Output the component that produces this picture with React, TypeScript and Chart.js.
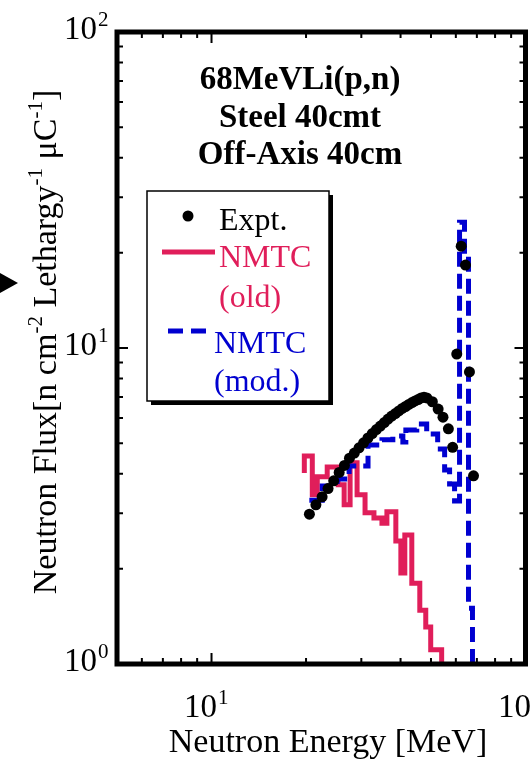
import React, { useEffect, useRef } from "react";
import { Chart, registerables } from "chart.js";

Chart.register(...registerables);

// ---------- data ----------
const exptEnergy = [
  20.5, 21.5, 22.5, 23.5, 24.5, 25.5, 26.5, 27.5, 28.5, 29.5, 30.5, 31.5, 32.5, 33.5, 34.5,
  35.5, 36.5, 37.5, 38.5, 39.5, 40.5, 41.5, 42.5, 43.5, 44.5, 45.5, 46.5, 47.5, 48.5,
  50.5, 52.7, 54.6, 56.8, 58.6, 60.4, 62.4, 64.4, 66.3, 68.3,
];
const exptFlux = [
  2.98, 3.19, 3.38, 3.59, 3.8, 4.04, 4.25, 4.48, 4.65, 4.83, 5.01, 5.19, 5.36, 5.52, 5.66,
  5.81, 5.96, 6.09, 6.2, 6.32, 6.44, 6.53, 6.63, 6.72, 6.8, 6.87, 6.95, 6.98, 6.95,
  6.76, 6.41, 6.04, 5.55, 4.85, 9.57, 21.0, 18.3, 8.4, 3.94,
];

// NMTC (old): bin lower edges [MeV] and flux
const oldEnergy = [
  19.75, 19.75, 20.94, 21.72, 23.36, 25.31, 26.45, 27.63, 29.08, 30.83, 32.91, 34.9, 36.19,
  38.64, 40.09, 41.27, 43.44, 46.06, 48.12, 49.9, 54.07,
];
const oldFlux = [
  4.02, 4.55, 3.43, 3.91, 4.2, 3.69, 3.19, 4.33, 3.43, 3.01, 2.9, 2.79, 3.03, 2.45, 1.94,
  2.56, 1.8, 1.48, 1.31, 1.11, 0.5,
];

// NMTC (mod.): bin lower edges [MeV] and flux
const modEnergy = [
  20.49, 22.53, 25.13, 27.43, 31.51, 34.9, 37.8, 40.68, 41.58, 45.05, 48.45, 52.51, 55.26,
  57.31, 59.44, 61.65, 63.94, 65.83, 67.78,
];
const modFlux = [
  3.3, 3.66, 3.85, 4.23, 4.93, 5.12, 5.27, 5.04, 5.5, 5.75, 5.34, 4.79, 4.11, 3.71, 3.28,
  25.0, 19.5, 1.5, 0.5,
];

const xRange = [5, 100];
const yRange = [1, 100];
const xMajorTicks = [10, 100];
const xMinorTicks = [5, 6, 7, 8, 9, 20, 30, 40, 50, 60, 70, 80, 90];
const yMajorTicks = [1, 10, 100];
const yMinorTicks = [2, 3, 4, 5, 6, 7, 8, 9, 20, 30, 40, 50, 60, 70, 80, 90];
const xTickLabels = [
  { value: 10, exp: "1" },
  { value: 100, exp: "2" },
];
const yTickLabels = [
  { value: 1, exp: "0" },
  { value: 10, exp: "1" },
  { value: 100, exp: "2" },
];

const titleLines = ["68MeVLi(p,n)", "Steel 40cmt", "Off-Axis 40cm"];
const xTitle = "Neutron Energy [MeV]";
const yTitleParts: { t: string; sup?: boolean }[] = [
  { t: "Neutron Flux[n cm" },
  { t: "-2", sup: true },
  { t: " Lethargy" },
  { t: "-1", sup: true },
  { t: " \u03bcC" },
  { t: "-1", sup: true },
  { t: "]" },
];

const RED = "#E01E5A";
const BLUE = "#0000D0";
const SERIF = '"Liberation Serif", "Times New Roman", Times, serif';

function drawPow(
  ctx: CanvasRenderingContext2D,
  exp: string,
  baseRight: number,
  baseline: number
) {
  ctx.textAlign = "right";
  ctx.textBaseline = "alphabetic";
  ctx.font = `33px ${SERIF}`;
  ctx.fillText("10", baseRight, baseline);
  ctx.textAlign = "left";
  ctx.font = `21px ${SERIF}`;
  ctx.fillText(exp, baseRight + 1, baseline - 13);
}

const decorPlugin = {
  id: "decor",
  afterDraw(chart: any) {
    const ctx: CanvasRenderingContext2D = chart.ctx;
    const { left, right, top, bottom } = chart.chartArea;
    const xs = chart.scales.x;
    const ys = chart.scales.y;
    ctx.save();
    ctx.fillStyle = "#000";
    ctx.strokeStyle = "#000";

    // ticks (inward, all four sides)
    ctx.lineWidth = 2;
    const tick = (v: number, len: number, horiz: boolean) => {
      ctx.beginPath();
      if (horiz) {
        const p = xs.getPixelForValue(v);
        ctx.moveTo(p, bottom);
        ctx.lineTo(p, bottom - len);
        ctx.moveTo(p, top);
        ctx.lineTo(p, top + len);
      } else {
        const p = ys.getPixelForValue(v);
        ctx.moveTo(left, p);
        ctx.lineTo(left + len, p);
        ctx.moveTo(right, p);
        ctx.lineTo(right - len, p);
      }
      ctx.stroke();
    };
    xMajorTicks.forEach((v) => tick(v, 11, true));
    xMinorTicks.forEach((v) => tick(v, 6, true));
    yMajorTicks.forEach((v) => tick(v, 11, false));
    yMinorTicks.forEach((v) => tick(v, 6, false));

    // frame
    ctx.lineWidth = 5;
    ctx.strokeRect(left, top, right - left, bottom - top);

    // tick labels
    xTickLabels.forEach((t) => {
      const p = xs.getPixelForValue(t.value);
      drawPow(ctx, t.exp, p + 5.5, bottom + 53);
    });
    yTickLabels.forEach((t) => {
      const p = ys.getPixelForValue(t.value);
      drawPow(ctx, t.exp, 97, p + 7);
    });

    // x title
    ctx.font = `34px ${SERIF}`;
    ctx.textAlign = "center";
    ctx.fillText(xTitle, 328, 752);

    // y title (rotated)
    ctx.save();
    ctx.translate(56, 342);
    ctx.rotate(-Math.PI / 2);
    const mainFont = `34px ${SERIF}`;
    const supFont = `21px ${SERIF}`;
    let total = 0;
    yTitleParts.forEach((p) => {
      ctx.font = p.sup ? supFont : mainFont;
      total += ctx.measureText(p.t).width;
    });
    let cx = -total / 2;
    ctx.textAlign = "left";
    yTitleParts.forEach((p) => {
      ctx.font = p.sup ? supFont : mainFont;
      ctx.fillText(p.t, cx, p.sup ? -14 : 0);
      cx += ctx.measureText(p.t).width;
    });
    ctx.restore();

    // chart title
    ctx.font = `bold 33px ${SERIF}`;
    ctx.textAlign = "center";
    titleLines.forEach((line, i) => ctx.fillText(line, 300, 89 + i * 37.5));

    // legend box
    const bx = 147, by = 191, bw = 182, bh = 210;
    ctx.fillStyle = "#000";
    ctx.fillRect(bx + 4, by + 4, bw, bh);
    ctx.fillStyle = "#fff";
    ctx.fillRect(bx, by, bw, bh);
    ctx.lineWidth = 1.5;
    ctx.strokeStyle = "#000";
    ctx.strokeRect(bx, by, bw, bh);

    ctx.textAlign = "left";
    ctx.font = `32px ${SERIF}`;
    // Expt.
    ctx.fillStyle = "#000";
    ctx.beginPath();
    ctx.arc(188, 216, 5.5, 0, Math.PI * 2);
    ctx.fill();
    ctx.fillText("Expt.", 219, 230);
    // NMTC (old)
    ctx.strokeStyle = RED;
    ctx.lineWidth = 5;
    ctx.beginPath();
    ctx.moveTo(162, 252);
    ctx.lineTo(215, 252);
    ctx.stroke();
    ctx.fillStyle = RED;
    ctx.fillText("NMTC", 219, 267);
    ctx.fillText("(old)", 219, 307);
    // NMTC (mod.)
    ctx.strokeStyle = BLUE;
    ctx.setLineDash([15, 8]);
    ctx.beginPath();
    ctx.moveTo(168, 331);
    ctx.lineTo(207, 331);
    ctx.stroke();
    ctx.setLineDash([]);
    ctx.fillStyle = BLUE;
    ctx.fillText("NMTC", 214, 353);
    ctx.fillText("(mod.)", 214, 391);

    // marker at left edge
    ctx.fillStyle = "#000";
    ctx.beginPath();
    ctx.moveTo(0, 273);
    ctx.lineTo(18, 283);
    ctx.lineTo(0, 293);
    ctx.closePath();
    ctx.fill();

    ctx.restore();
  },
};

export default function App() {
  const ref = useRef<HTMLCanvasElement | null>(null);

  useEffect(() => {
    if (!ref.current) return;
    const chart = new Chart(ref.current, {
      type: "line",
      data: {
        datasets: [
          {
            label: "Expt.",
            data: exptEnergy.map((x, i) => ({ x, y: exptFlux[i] })),
            showLine: false,
            pointRadius: 5.5,
            pointBackgroundColor: "#000",
            pointBorderWidth: 0,
            borderColor: "#000",
            backgroundColor: "#000",
          },
          {
            label: "NMTC (mod.)",
            data: modEnergy.map((x, i) => ({ x, y: modFlux[i] })),
            stepped: true,
            borderColor: BLUE,
            borderWidth: 5,
            borderDash: [15, 7],
            borderCapStyle: "butt",
            borderJoinStyle: "miter",
            pointRadius: 0,
            fill: false,
          },
          {
            label: "NMTC (old)",
            data: oldEnergy.map((x, i) => ({ x, y: oldFlux[i] })),
            stepped: true,
            borderColor: RED,
            borderWidth: 5,
            borderCapStyle: "butt",
            borderJoinStyle: "miter",
            pointRadius: 0,
            fill: false,
          },
        ],
      },
      options: {
        animation: false,
        responsive: false,
        maintainAspectRatio: false,
        devicePixelRatio: 1,
        layout: { padding: { left: 117, top: 32, right: 4, bottom: 97 } },
        plugins: { legend: { display: false }, tooltip: { enabled: false } },
        scales: {
          x: { type: "logarithmic", min: xRange[0], max: xRange[1], display: false },
          y: { type: "logarithmic", min: yRange[0], max: yRange[1], display: false },
        },
      },
      plugins: [decorPlugin],
    } as any);
    return () => chart.destroy();
  }, []);

  return (
    <div
      style={{
        position: "absolute",
        left: 0,
        top: 0,
        width: 531,
        height: 761,
        overflow: "hidden",
        background: "#fff",
      }}
    >
      <canvas ref={ref} width={531} height={761} style={{ display: "block" }} />
    </div>
  );
}
